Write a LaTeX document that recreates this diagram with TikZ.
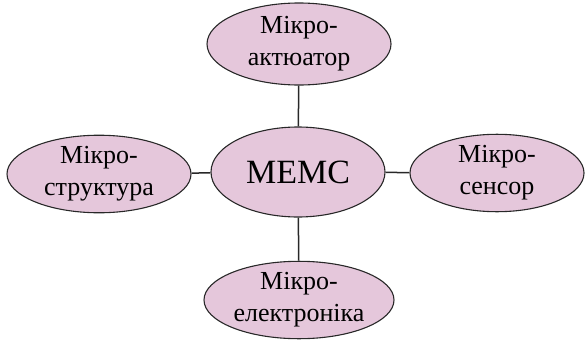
\documentclass[tikz,border=0pt]{standalone}
\usepackage{fontspec}
\setmainfont{Liberation Serif}
\usepackage{tikz}
\usetikzlibrary{shapes.geometric}
\definecolor{MemsPink}{RGB}{229,199,219}
\definecolor{EdgeGray}{RGB}{40,40,40}

\begin{document}
\begin{tikzpicture}[x=1pt, y=-1pt,
		oval/.style={ellipse, draw=EdgeGray, line width=1.1pt, fill=MemsPink,
			inner sep=0pt, align=center, font=\fontsize{26}{32}\selectfont},
		link/.style={draw=EdgeGray, line width=1.5pt}]
		\useasboundingbox (0,0) rectangle (586,340);
		
		% центр
		\node[oval, minimum width=174, minimum height=90, font=\fontsize{34}{38}\selectfont] (mems) at (298,172) {МЕМС};
		
		% гілки
		\node[oval, minimum width=184, minimum height=82] (act) at (299,44) {Мікро-\\актюатор};
		\node[oval, minimum width=184, minimum height=76] (str) at (99,174) {Мікро-\\структура};
		\node[oval, minimum width=174, minimum height=76] (sen) at (497,173) {Мікро-\\сенсор};
		\node[oval, minimum width=190, minimum height=76] (ele) at (299,300) {Мікро-\\електроніка};
		
		% з'єднання
		\draw[link] (mems) -- (act);
		\draw[link] (mems) -- (str);
		\draw[link] (mems) -- (sen);
		\draw[link] (mems) -- (ele);
	\end{tikzpicture}
\end{document}
